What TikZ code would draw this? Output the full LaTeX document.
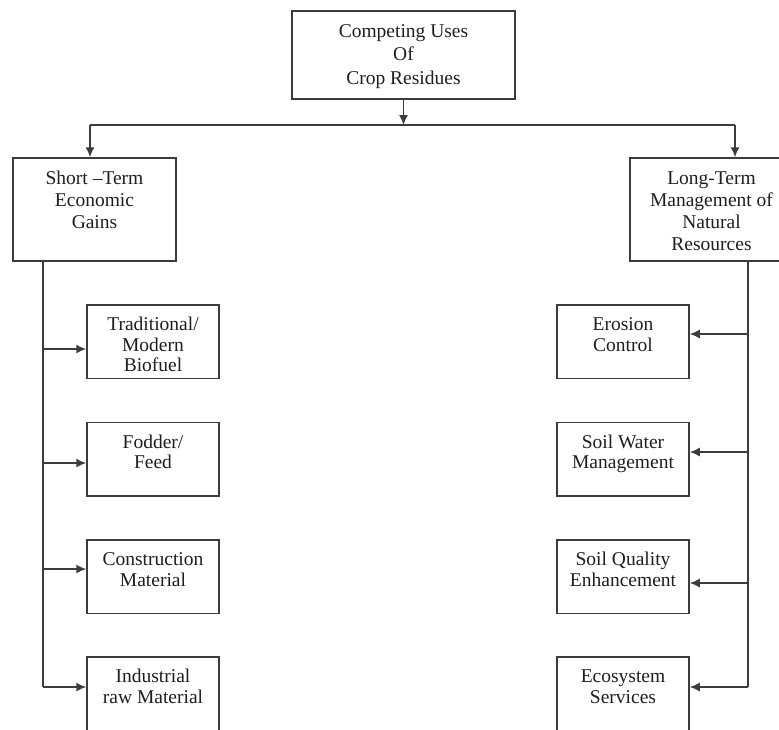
\documentclass[tikz,border=0pt]{standalone}
\usepackage{fontspec}
\setmainfont{Liberation Serif}
\usetikzlibrary{arrows.meta}
\definecolor{ln}{HTML}{3C3C3C}
\definecolor{tx}{HTML}{1E1E1E}
\newcommand{\boxtext}[4]{\parbox[c][#1][t]{#2}{\fontsize{9.75pt}{#3}\selectfont\centering\rule{0pt}{13pt}#4}}

\begin{document}
\begin{tikzpicture}[x=0.5pt,y=-0.5pt,box/.style={draw=ln,line
width=.75pt,inner sep=0pt,text=tx},wire/.style={draw=ln,line
width=.75pt},arr/.style={draw=ln,line width=.75pt,-{Latex[length=5pt,width=4.5pt]}}]
\useasboundingbox (0,0) rectangle (779,729);
\node[box] (uses) at (403.5,55) {\boxtext{44pt}{111.5pt}{11.75pt}{Competing Uses\\Of\\Crop Residues}};
\node[box] (short) at (94.5,209.5) {\boxtext{51.5pt}{81.5pt}{11pt}{Short –Term\\Economic\\Gains}};
\node[box] (long) at (711.5,209.5) {\boxtext{51.5pt}{81.5pt}{11pt}{Long-Term\\Management of\\Natural\\Resources}};
\node[box] (fuel) at (153,341.5) {\boxtext{36.75pt}{66pt}{10.25pt}{Traditional/\\Modern\\Biofuel}};
\node[box] (fodder) at (153,459) {\boxtext{36.75pt}{66pt}{10.25pt}{Fodder/\\Feed}};
\node[box] (build) at (153,576.5) {\boxtext{36.75pt}{66pt}{10.25pt}{Construction\\Material}};
\node[box] (raw) at (153,693.5) {\boxtext{36.75pt}{66pt}{10.25pt}{Industrial\\raw Material}};
\node[box] (erosion) at (623,341.5) {\boxtext{36.75pt}{66pt}{10.25pt}{Erosion\\Control}};
\node[box] (water) at (623,459) {\boxtext{36.75pt}{66pt}{10.25pt}{Soil Water\\Management}};
\node[box] (quality) at (623,576.5) {\boxtext{36.75pt}{66pt}{10.25pt}{Soil Quality\\Enhancement}};
\node[box] (eco) at (623,693.5) {\boxtext{36.75pt}{66pt}{10.25pt}{Ecosystem\\Services}};
\coordinate (busL) at (90,125);
\coordinate (busR) at (735,125);
\coordinate (spL) at (43,261);
\coordinate (spR) at (748,261);
\coordinate (f1) at (43,349);
\coordinate (f2) at (43,463);
\coordinate (f3) at (43,569);
\coordinate (f4) at (43,687);
\coordinate (e1) at (748,334);
\coordinate (e2) at (748,452);
\coordinate (e3) at (748,583);
\coordinate (e4) at (748,687);
\draw[wire] (busL) -- (busR);
\draw[arr] (uses.south) -- (uses.south |- busL);
\draw[arr] (busL) -- (busL |- short.north);
\draw[arr] (busR) -- (busR |- long.north);
\draw[wire] (spL) -- (f4);
\draw[wire] (spR) -- (e4);
\draw[arr] (f1) -- (f1 -| fuel.west);
\draw[arr] (f2) -- (f2 -| fodder.west);
\draw[arr] (f3) -- (f3 -| build.west);
\draw[arr] (f4) -- (f4 -| raw.west);
\draw[arr] (e1) -- (e1 -| erosion.east);
\draw[arr] (e2) -- (e2 -| water.east);
\draw[arr] (e3) -- (e3 -| quality.east);
\draw[arr] (e4) -- (e4 -| eco.east);
\end{tikzpicture}
\end{document}
